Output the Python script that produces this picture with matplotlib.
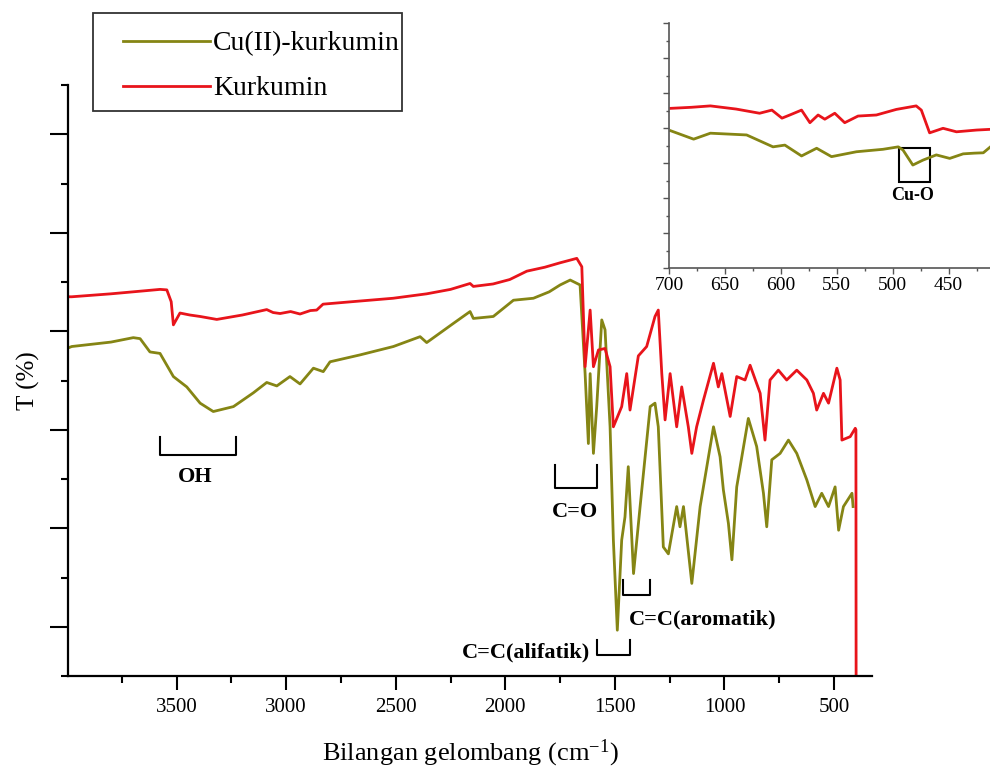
import matplotlib
matplotlib.use('Agg')
from matplotlib import pyplot as plt
from matplotlib.patches import Rectangle
import numpy as np

plt.rcParams['font.family'] = ['Liberation Serif', 'DejaVu Serif']
plt.rcParams['mathtext.default'] = 'regular'

# main spectrum, Kurkumin (red)
wn_k = [3996, 3979, 3800, 3650, 3576, 3545, 3525, 3515, 3500, 3485, 3440, 3393, 3317, 3200, 3089, 3060,
        3028, 2980, 2937, 2890, 2861, 2832, 2700, 2512, 2359, 2250, 2161, 2146, 2056, 1980, 1902, 1820,
        1750, 1674, 1651, 1636, 1613, 1598, 1575, 1545, 1522, 1507, 1469, 1446, 1431, 1393, 1355, 1317,
        1302, 1286, 1271, 1248, 1218, 1195, 1165, 1149, 1127, 1096, 1050, 1028, 1012, 974, 944, 906,
        883, 837, 815, 792, 754, 716, 670, 624, 594, 579, 548, 525, 487, 472, 464, 426, 403, 400, 399]
t_k = [7.70, 7.70, 7.76, 7.82, 7.85, 7.84, 7.60, 7.13, 7.25, 7.37, 7.33, 7.30, 7.24, 7.33, 7.44, 7.38,
       7.36, 7.40, 7.35, 7.42, 7.43, 7.55, 7.60, 7.67, 7.76, 7.85, 7.97, 7.91, 7.96, 8.05, 8.22, 8.30,
       8.39, 8.48, 8.31, 6.28, 7.43, 6.28, 6.62, 6.65, 6.28, 5.06, 5.47, 6.14, 5.40, 6.50, 6.69, 7.30,
       7.43, 6.14, 5.20, 6.14, 5.06, 5.87, 5.06, 4.52, 5.06, 5.60, 6.35, 5.87, 6.14, 5.27, 6.08, 6.01,
       6.31, 5.74, 4.79, 6.01, 6.21, 6.01, 6.21, 6.01, 5.74, 5.40, 5.74, 5.54, 6.25, 6.01, 4.79, 4.86,
       5.03, 5.00, -1.0]

# main spectrum, Cu(II)-kurkumin (olive)
wn_c = [3996, 3979, 3800, 3698, 3667, 3622, 3576, 3515, 3454, 3393, 3333, 3241, 3150, 3089, 3043, 2983,
        2937, 2876, 2831, 2800, 2663, 2511, 2389, 2359, 2237, 2161, 2146, 2055, 1963, 1872, 1800, 1750,
        1704, 1659, 1636, 1621, 1613, 1598, 1583, 1560, 1545, 1522, 1507, 1489, 1469, 1454, 1439, 1415,
        1385, 1339, 1317, 1302, 1279, 1256, 1218, 1203, 1187, 1149, 1111, 1050, 1020, 1005, 982, 966,
        944, 891, 853, 822, 807, 784, 746, 708, 670, 624, 586, 556, 525, 495, 479, 457, 418, 413]
t_c = [6.66, 6.69, 6.78, 6.87, 6.85, 6.58, 6.55, 6.08, 5.87, 5.54, 5.37, 5.47, 5.75, 5.96, 5.89, 6.08,
       5.93, 6.25, 6.18, 6.38, 6.52, 6.69, 6.89, 6.77, 7.16, 7.40, 7.26, 7.30, 7.63, 7.67, 7.80, 7.94,
       8.04, 7.94, 6.14, 4.72, 6.14, 4.52, 5.47, 7.23, 7.03, 5.06, 2.76, 0.93, 2.76, 3.23, 4.25, 2.08,
       3.44, 5.47, 5.54, 5.06, 2.62, 2.48, 3.44, 3.03, 3.44, 1.88, 3.44, 5.06, 4.45, 3.78, 3.10, 2.36,
       3.84, 5.23, 4.66, 3.71, 3.03, 4.39, 4.52, 4.79, 4.52, 3.98, 3.44, 3.71, 3.44, 3.84, 2.96, 3.44,
       3.71, 3.44]

# inset 700-413 cm-1
wn_ik = [698.5, 680, 663, 640, 619, 608, 599, 592, 581.5, 574, 566.7, 560.7, 551.8, 542.9, 531, 514.6,
         496.7, 479, 474.4, 467, 455, 443, 425, 413]
t_ik = [4.57, 4.60, 4.64, 4.55, 4.43, 4.52, 4.29, 4.38, 4.52, 4.16, 4.38, 4.26, 4.43, 4.16, 4.35, 4.38,
        4.54, 4.64, 4.52, 3.87, 4.00, 3.90, 3.95, 3.97]
wn_ic = [698.5, 678, 663, 630.6, 607, 596.4, 581.5, 568, 554.7, 532.4, 508.7, 495, 490.8, 482, 473, 461,
         449, 437, 427, 419, 413]
t_ic = [3.93, 3.69, 3.86, 3.81, 3.47, 3.52, 3.21, 3.43, 3.19, 3.33, 3.40, 3.47, 3.38, 2.95, 3.09, 3.24,
        3.14, 3.27, 3.29, 3.30, 3.46]

red = '#e8141b'
olive = '#858514'

fig = plt.figure(figsize=(9.9, 7.72), dpi=100)
ax = fig.add_axes([68/990, 1-676/772, (871.7-68)/990, (676-85)/772])
ax.plot(wn_c, t_c, color=olive, lw=2.0, label='Cu(II)-kurkumin')
ax.plot(wn_k, t_k, color=red, lw=2.0, label='Kurkumin')
ax.set_xlim(3996, 328)
ax.set_ylim(0, 12)
ax.set_xticks([3500, 3000, 2500, 2000, 1500, 1000, 500])
ax.set_xticks(np.arange(750, 4000, 500), minor=True)
ax.set_yticks(np.arange(1, 12, 2))
ax.set_yticks(np.arange(0, 13, 2), minor=True)
ax.set_yticklabels([])
ax.tick_params(which='major', direction='out', length=10, width=1.5, labelsize=15)
ax.tick_params(which='minor', direction='out', length=5, width=1.5)
ax.tick_params(axis='y', which='major', length=13)
ax.tick_params(axis='x', pad=6)
for s in ['top', 'right']:
    ax.spines[s].set_visible(False)
for s in ['left', 'bottom']:
    ax.spines[s].set_linewidth(1.6)
ax.set_xlabel('Bilangan gelombang (cm$^{-1}$)', fontsize=19, labelpad=15)
ax.set_ylabel('T (%)', fontsize=18, labelpad=4)

# brackets
def bracket(x0, x1, ytop, ybot):
    ax.plot([x0, x0, x1, x1], [ytop, ybot, ybot, ytop], color='black', lw=1.5)

bracket(3576, 3229, 4.86, 4.49)
ax.text(3416, 4.05, 'OH', fontsize=16, fontweight='bold', ha='center', va='center')
bracket(1773, 1583, 4.28, 3.81)
ax.text(1682, 3.34, 'C=O', fontsize=16, fontweight='bold', ha='center', va='center')
bracket(1461, 1339, 1.95, 1.64)
ax.text(1435, 1.14, 'C=C(aromatik)', fontsize=16, fontweight='bold', ha='left', va='center')
bracket(1583, 1431, 0.73, 0.43)
ax.text(1613, 0.47, 'C=C(alifatik)', fontsize=16, fontweight='bold', ha='right', va='center')

# legend
leg = ax.legend(loc='upper left', bbox_to_anchor=(123/990, 1-31/772), bbox_transform=fig.transFigure,
                frameon=False, fontsize=20, handlelength=3.13, handletextpad=0.1, labelspacing=0.7,
                borderaxespad=0, borderpad=0)
fig.add_artist(Rectangle((93/990, 1-110.7/772), (401.7-93)/990, (110.7-13.3)/772,
                         transform=fig.transFigure, fill=False, edgecolor='#333333', lw=1.3))

# inset
ins = fig.add_axes([669/990, 1-268.3/772, (990-669)/990, (268.3-23.3)/772])
ins.plot(wn_ik, t_ik, color=red, lw=2.0)
ins.plot(wn_ic, t_ic, color=olive, lw=2.0)
ins.set_xlim(700, 413)
ins.set_ylim(0, 7)
ins.set_xticks([700, 650, 600, 550, 500, 450])
ins.set_xticks(np.arange(425, 700, 50), minor=True)
ins.set_yticks(np.arange(0, 8, 1))
ins.set_yticks(np.arange(0.5, 7, 1), minor=True)
ins.set_yticklabels([])
ins.tick_params(which='major', direction='out', length=4, width=1, labelsize=14, colors='#555555',
                labelcolor='black', pad=2)
ins.tick_params(which='minor', direction='out', length=2, width=1, colors='#555555')
for s in ['top', 'right']:
    ins.spines[s].set_visible(False)
for s in ['left', 'bottom']:
    ins.spines[s].set_color('#555555')
    ins.spines[s].set_linewidth(1.2)
ins.patch.set_alpha(0)
ins.add_patch(Rectangle((467, 2.47), 494-467, 3.43-2.47, fill=False, edgecolor='black', lw=1.5))
ins.text(482, 2.09, 'Cu-O', fontsize=13, fontweight='bold', ha='center', va='center')

fig.savefig('out.png', dpi=100)
